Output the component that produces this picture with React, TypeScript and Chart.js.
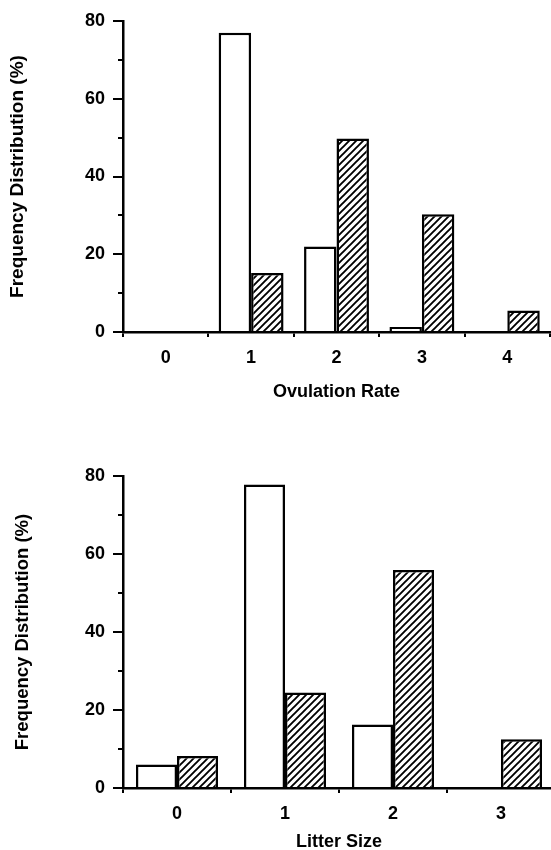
import React, { useEffect, useRef } from 'react';
import { Chart, registerables } from 'chart.js';

Chart.register(...registerables);

// ---- data ----
const ovulationCategories = ['0', '1', '2', '3', '4'];
const ovulationOpen = [0, 77, 22, 1.3, 0];
const ovulationHatched = [0, 15.2, 49.8, 30.3, 5.5];

const litterCategories = ['0', '1', '2', '3'];
const litterOpen = [6.0, 77.8, 16.3, 0];
const litterHatched = [8.2, 24.5, 55.9, 12.5];

const yMin = 0;
const yMax = 80;
const yMajorStep = 20;
const yMinorTicks = [10, 30, 50, 70];

const yTitle = 'Frequency Distribution (%)';
const topXTitle = 'Ovulation Rate';
const bottomXTitle = 'Litter Size';

const FONT = '"Liberation Sans", Arial, Helvetica, sans-serif';

function makeHatch(): CanvasPattern | string {
  const size = 7;
  const c = document.createElement('canvas');
  c.width = size;
  c.height = size;
  const g = c.getContext('2d');
  if (!g) return '#888';
  g.fillStyle = '#fff';
  g.fillRect(0, 0, size, size);
  g.strokeStyle = '#000';
  g.lineWidth = 1.9;
  g.beginPath();
  g.moveTo(0, size);
  g.lineTo(size, 0);
  g.moveTo(-2, 2);
  g.lineTo(2, -2);
  g.moveTo(size - 2, size + 2);
  g.lineTo(size + 2, size - 2);
  g.stroke();
  const p = g.createPattern(c, 'repeat');
  return p || '#888';
}

const minorTicksPlugin = {
  id: 'minorTicks',
  afterDraw(chart: any) {
    const y = chart.scales.y;
    const ctx = chart.ctx;
    const left = chart.chartArea.left;
    ctx.save();
    ctx.strokeStyle = '#000';
    ctx.lineWidth = 2;
    for (const v of yMinorTicks) {
      const py = Math.round(y.getPixelForValue(v));
      ctx.beginPath();
      ctx.moveTo(left - 5, py);
      ctx.lineTo(left, py);
      ctx.stroke();
    }
    ctx.restore();
  },
};

type Props = {
  categories: string[];
  open: number[];
  hatched: number[];
  xTitle: string;
  width: number;
  height: number;
  top: number;
  padTop: number;
  padRight: number;
  yWidth: number;
  xHeight: number;
  xTitleSize: number;
  xTitlePadBottom: number;
  yTitleSize: number;
  yTitlePadTop: number;
};

function BarPanel(props: Props) {
  const ref = useRef<HTMLCanvasElement | null>(null);
  useEffect(() => {
    if (!ref.current) return;
    const hatch = makeHatch();
    const chart = new Chart(ref.current, {
      type: 'bar',
      data: {
        labels: props.categories,
        datasets: [
          {
            data: props.open,
            backgroundColor: '#fff',
            borderColor: '#000',
            borderWidth: 2.5,
            borderSkipped: 'bottom',
            categoryPercentage: 0.76,
            barPercentage: 1,
          },
          {
            data: props.hatched,
            backgroundColor: hatch as any,
            borderColor: '#000',
            borderWidth: 2.5,
            borderSkipped: 'bottom',
            categoryPercentage: 0.76,
            barPercentage: 1,
          },
        ],
      },
      options: {
        responsive: false,
        animation: false,
        events: [],
        layout: {
          padding: { top: props.padTop, right: props.padRight, left: 0, bottom: 0 },
        },
        plugins: {
          legend: { display: false },
          tooltip: { enabled: false },
        },
        scales: {
          x: {
            type: 'category',
            offset: true,
            grid: {
              offset: true,
              drawOnChartArea: false,
              drawTicks: true,
              tickLength: 5,
              color: '#000',
              lineWidth: 2,
            },
            border: { display: true, color: '#000', width: 2.5 },
            ticks: {
              color: '#000',
              padding: 10,
              maxRotation: 0,
              font: { family: FONT, size: 18, weight: 'bold' },
            },
            title: {
              display: true,
              text: props.xTitle,
              color: '#000',
              font: { family: FONT, size: props.xTitleSize, weight: 'bold' },
              padding: { top: 0, bottom: props.xTitlePadBottom },
            },
            afterFit: (scale: any) => {
              scale.height = props.xHeight;
            },
          },
          y: {
            min: yMin,
            max: yMax,
            grid: {
              drawOnChartArea: false,
              drawTicks: true,
              tickLength: 10,
              color: '#000',
              lineWidth: 2,
            },
            border: { display: true, color: '#000', width: 2.5 },
            ticks: {
              stepSize: yMajorStep,
              color: '#000',
              padding: 8,
              font: { family: FONT, size: 18, weight: 'bold' },
            },
            title: {
              display: true,
              text: yTitle,
              color: '#000',
              font: { family: FONT, size: props.yTitleSize, weight: 'bold' },
              padding: { top: props.yTitlePadTop, bottom: 0 },
            },
            afterFit: (scale: any) => {
              scale.width = props.yWidth;
            },
          },
        },
      } as any,
      plugins: [minorTicksPlugin],
    });
    return () => chart.destroy();
  }, []);
  return (
    <canvas
      ref={ref}
      width={props.width}
      height={props.height}
      style={{
        position: 'absolute',
        left: 0,
        top: props.top,
        width: props.width,
        height: props.height,
      }}
    />
  );
}

export default function App() {
  return (
    <div
      style={{
        position: 'absolute',
        left: 0,
        top: 0,
        width: 551,
        height: 850,
        overflow: 'hidden',
        background: '#fff',
      }}
    >
      <BarPanel
        categories={ovulationCategories}
        open={ovulationOpen}
        hatched={ovulationHatched}
        xTitle={topXTitle}
        width={551}
        height={420}
        top={0}
        padTop={21}
        padRight={1}
        yWidth={123}
        xHeight={88}
        xTitleSize={18}
        xTitlePadBottom={17}
        yTitleSize={19}
        yTitlePadTop={6}
      />
      <BarPanel
        categories={litterCategories}
        open={litterOpen}
        hatched={litterHatched}
        xTitle={bottomXTitle}
        width={560}
        height={460}
        top={420}
        padTop={56}
        padRight={5}
        yWidth={123}
        xHeight={92}
        xTitleSize={18}
        xTitlePadBottom={27}
        yTitleSize={18.5}
        yTitlePadTop={12}
      />
    </div>
  );
}
